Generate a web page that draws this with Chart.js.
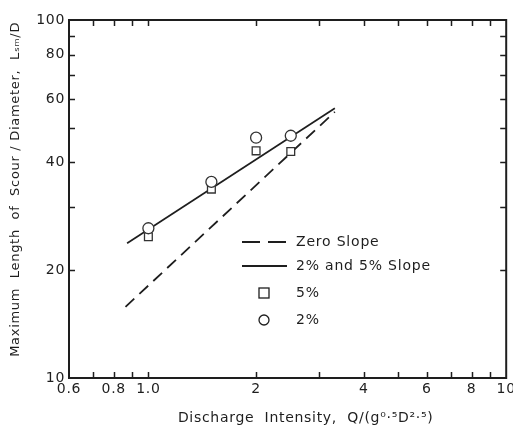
<!DOCTYPE html>
<html><head><meta charset="utf-8">
<script src="https://cdn.jsdelivr.net/npm/chart.js@4/dist/chart.umd.min.js"></script>
<style>html,body{margin:0;padding:0;background:#fff}</style>
</head><body>
<canvas id="c" width="513" height="428"></canvas>
<script>
// ---- data ----
const discharge = [1.0, 1.5, 2.0, 2.5];
const scour5pct = [24.8, 33.7, 43.1, 42.9];
const scour2pct = [26.2, 35.3, 46.9, 47.5];
const zeroSlopeX = [0.863, 3.32];
const zeroSlopeY = [15.8, 55.4];
const slopeFitX = [0.872, 3.32];
const slopeFitY = [23.8, 56.7];

const xTickValues = [0.6, 0.7, 0.8, 0.9, 1, 2, 3, 4, 5, 6, 7, 8, 9, 10];
const xTickLabelValues = [0.6, 0.8, 1, 2, 4, 6, 8, 10];
const xTickLabelTexts = ['0.6', '0.8', '1.0', '2', '4', '6', '8', '10'];
const yTickValues = [10, 20, 30, 40, 50, 60, 70, 80, 90, 100];
const yTickLabelValues = [10, 20, 40, 60, 80, 100];
const yTickLabelTexts = ['10', '20', '40', '60', '80', '100'];

const legendLabels = ['Zero Slope', '2% and 5% Slope', '5%', '2%'];

const INK = '#1e1e1e';
const FONT = 'DejaVu Sans';

const pts = (xs, ys) => xs.map((x, i) => ({x, y: ys[i]}));

const frameAndTicks = {
  id: 'frameAndTicks',
  beforeDraw(chart) {
    try { chart.ctx.letterSpacing = '0.7px'; } catch (e) {}
  },
  afterDatasetsDraw(chart) {
    const {ctx, chartArea: a, scales} = chart;
    const L = 6;
    ctx.save();
    ctx.strokeStyle = INK;
    ctx.lineWidth = 1.5;
    ctx.beginPath();
    xTickValues.forEach(v => {
      if (v === 0.6 || v === 10) return;
      const px = Math.round(scales.x.getPixelForValue(v)) + 0.5;
      ctx.moveTo(px, a.bottom); ctx.lineTo(px, a.bottom - L);
      ctx.moveTo(px, a.top); ctx.lineTo(px, a.top + L);
    });
    yTickValues.forEach(v => {
      if (v === 10 || v === 100) return;
      const py = Math.round(scales.y.getPixelForValue(v)) + 0.5;
      ctx.moveTo(a.left, py); ctx.lineTo(a.left + L, py);
      ctx.moveTo(a.right, py); ctx.lineTo(a.right - L, py);
    });
    ctx.stroke();
    ctx.lineWidth = 2;
    ctx.strokeRect(a.left, a.top, a.right - a.left, a.bottom - a.top);

    // legend (key)
    const lx0 = 242, lx1 = 287, mx = 264, tx = 296;
    const rows = [242, 266, 293, 320];
    ctx.font = '14px "' + FONT + '"';
    ctx.fillStyle = INK;
    ctx.textBaseline = 'middle';
    ctx.textAlign = 'left';
    try { ctx.letterSpacing = '0.8px'; } catch (e) {}
    ctx.lineWidth = 1.8;
    ctx.setLineDash([18, 8]);
    ctx.beginPath(); ctx.moveTo(lx0, rows[0]); ctx.lineTo(lx1, rows[0]); ctx.stroke();
    ctx.setLineDash([]);
    ctx.beginPath(); ctx.moveTo(lx0, rows[1]); ctx.lineTo(lx1, rows[1]); ctx.stroke();
    ctx.lineWidth = 1.3;
    ctx.strokeRect(mx - 5, rows[2] - 5, 10, 10);
    ctx.beginPath(); ctx.arc(mx, rows[3], 5, 0, Math.PI * 2); ctx.stroke();
    legendLabels.forEach((t, i) => ctx.fillText(t, tx, rows[i]));
    ctx.restore();
  }
};

new Chart(document.getElementById('c'), {
  type: 'scatter',
  data: {
    datasets: [
      {label: legendLabels[0], type: 'line', data: pts(zeroSlopeX, zeroSlopeY),
       borderColor: INK, borderWidth: 1.8, borderDash: [12, 7], pointRadius: 0, fill: false, order: 3},
      {label: legendLabels[1], type: 'line', data: pts(slopeFitX, slopeFitY),
       borderColor: INK, borderWidth: 1.7, pointRadius: 0, fill: false, order: 2},
      {label: legendLabels[2], data: pts(discharge, scour5pct), pointStyle: 'rect',
       pointRadius: 5.5, pointBackgroundColor: '#fff', pointBorderColor: '#333', pointBorderWidth: 1.3, order: 1},
      {label: legendLabels[3], data: pts(discharge, scour2pct), pointStyle: 'circle',
       pointRadius: 5.5, pointBackgroundColor: '#fff', pointBorderColor: '#333', pointBorderWidth: 1.3, order: 0}
    ]
  },
  options: {
    responsive: false,
    animation: false,
    devicePixelRatio: 1,
    layout: {padding: {top: 20, right: 6, bottom: 0, left: 0}},
    plugins: {legend: {display: false}, tooltip: {enabled: false}},
    scales: {
      x: {
        type: 'logarithmic', min: 0.6, max: 10,
        afterBuildTicks: s => { s.ticks = xTickValues.map(v => ({value: v})); },
        afterFit: s => { s.height = 50; s.paddingLeft = 0; s.paddingRight = 0; },
        grid: {display: false, drawTicks: false},
        border: {display: false},
        ticks: {
          autoSkip: false, maxRotation: 0, padding: 3, color: INK,
          font: {family: FONT, size: 14},
          callback: v => { const i = xTickLabelValues.indexOf(v); return i >= 0 ? xTickLabelTexts[i] : ''; }
        },
        title: {display: true, text: '       Discharge  Intensity,  Q/(g⁰·⁵D²·⁵)', color: INK,
                font: {family: FONT, size: 14}, padding: {top: 0, bottom: 1}}
      },
      y: {
        type: 'logarithmic', min: 10, max: 100,
        afterBuildTicks: s => { s.ticks = yTickValues.map(v => ({value: v})); },
        afterFit: s => { s.width = 69; s.paddingTop = 0; s.paddingBottom = 0; },
        grid: {display: false, drawTicks: false},
        border: {display: false},
        ticks: {
          autoSkip: false, padding: 4, color: INK,
          font: {family: FONT, size: 14},
          callback: v => { const i = yTickLabelValues.indexOf(v); return i >= 0 ? yTickLabelTexts[i] : ''; }
        },
        title: {display: true, text: '    Maximum  Length  of  Scour / Diameter,  Lₛₘ/D', color: INK,
                font: {family: FONT, size: 13}, padding: {top: 8, bottom: 0}}
      }
    }
  },
  plugins: [frameAndTicks]
});
</script>
</body></html>
